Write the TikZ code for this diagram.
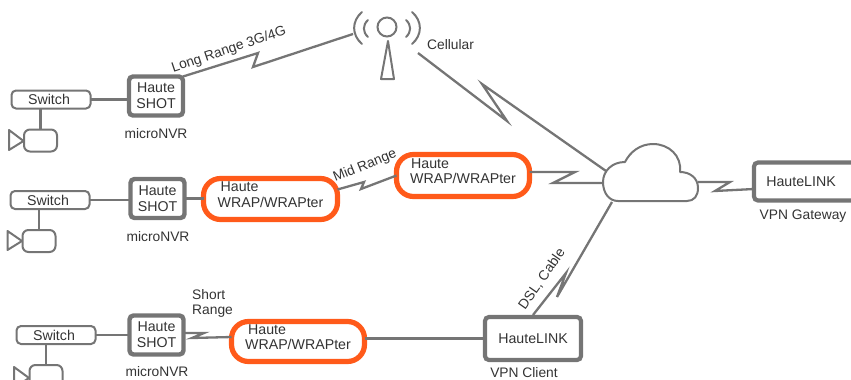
\documentclass[tikz,border=0pt]{standalone}
\usepackage{fontspec}
\setmainfont{Liberation Sans}
\definecolor{lg}{HTML}{757575}
\definecolor{og}{HTML}{FF5A1A}
\definecolor{tx}{HTML}{333333}
\newcommand{\wraptext}[1]{\raisebox{-1pt}[0pt][0pt]{\begin{tabular}[c]{@{}l@{}}\hspace*{#1}Haute\\[-0.6pt]WRAP/WRAPter\end{tabular}}}
\tikzset{
  base/.style={inner sep=0pt,outer sep=0pt,text=tx,font=\fontsize{14.2}{16}\selectfont},
  switchbox/.style={base,draw=lg,line width=2pt,rounded corners=4.5pt,minimum width=79pt,minimum height=18pt},
  shotbox/.style={base,draw=lg,line width=4.4pt,rounded corners=4pt,minimum width=54pt,minimum height=39pt,align=center},
  wrapbox/.style={base,draw=og,line width=5.2pt,rounded corners=17pt,align=left},
  linkbox/.style={base,draw=lg,line width=4.2pt,rounded corners=4pt},
  cambody/.style={base,draw=lg,line width=2pt,rounded corners=6pt,minimum width=33pt,minimum height=22pt},
  caption/.style={inner sep=0pt,text=tx,font=\fontsize{13.8}{16}\selectfont},
  linklabel/.style={inner sep=0pt,text=tx,font=\fontsize{13.8}{15.5}\selectfont},
  wire/.style={draw=lg,line width=2.3pt,line join=miter},
  thin/.style={draw=lg,line width=2pt,line join=round},
}
\begin{document}
\begin{tikzpicture}[x=1pt,y=-1pt]
\clip (0,0) rectangle (851,380);
% row 1
\node[switchbox] (swa) at (51,99.5) {Switch\hspace*{4pt}};
\node[shotbox] (shota) at (156,96) {\raisebox{-1pt}{Haute}\\\raisebox{-1pt}{SHOT}};
\node[caption] (nvra) at (156,134) {microNVR};
\node[cambody] (cama) at (40.5,140.5) {};
\draw[thin] (23.5,141) -- (9,130) -- (9,150) -- cycle;
% row 2
\node[switchbox] (swb) at (50,200) {Switch\hspace*{4pt}};
\node[shotbox] (shotb) at (157.5,198.5) {Haute\\SHOT};
\node[caption] (nvrb) at (158,237) {microNVR};
\node[cambody] (camb) at (39,241) {};
\draw[thin] (22,241) -- (7.5,231) -- (7.5,250) -- cycle;
\node[wrapbox,minimum width=134pt,minimum height=41pt] (wrapa) at (270.5,199) {\wraptext{3pt}};
\node[wrapbox,minimum width=133pt,minimum height=42pt] (wrapb) at (463,175.5) {\wraptext{1pt}};
% row 3
\node[switchbox] (swc) at (56,335) {Switch\hspace*{4pt}};
\node[shotbox] (shotc) at (156.5,335) {Haute\\SHOT};
\node[caption] (nvrc) at (157,371.5) {microNVR};
\node[cambody] (camc) at (46,376) {};
\draw[thin] (29,378) -- (14,367) -- (14,388) -- cycle;
\node[wrapbox,minimum width=133pt,minimum height=40pt] (wrapc) at (298,341.5) {\wraptext{3pt}};
% HauteLINK boxes
\node[linkbox,minimum width=96pt,minimum height=43pt] (client) at (533,338.5) {HauteLINK};
\node[caption] (clientcap) at (524,373) {VPN Client};
\node[linkbox,minimum width=126pt,minimum height=38pt] (gw) at (817,181.5) {HauteLINK\hspace*{32pt}};
\node[caption] (gwcap) at (803,216) {VPN Gateway};
% tower
\node[base,circle,draw=lg,line width=2pt,minimum size=19pt] (tower) at (387,27) {};
\draw[thin,line cap=round] (388,41) -- (381,79) -- (394,79) -- cycle;
\draw[thin,line cap=round] (368,20) .. controls (362.5,25) and (362.5,32) .. (368,37);
\draw[thin,line cap=round] (406,20) .. controls (411.5,25) and (411.5,32) .. (406,37);
\draw[thin,line cap=round] (362,12) .. controls (351.5,21) and (351.5,35) .. (362,44);
\draw[thin,line cap=round] (412,12) .. controls (422.5,21) and (422.5,35) .. (412,44);
\coordinate (towerw) at (353,34);
\coordinate (towere) at (418,53);
% cloud
\draw[thin,fill=white] (618,201) -- (687,201)
  .. controls (694,201) and (698,196) .. (698,188)
  .. controls (698,178) and (690,172) .. (680,172)
  .. controls (682,156) and (669,144) .. (653,144)
  .. controls (640,144) and (630,152) .. (625,162)
  .. controls (612,162) and (603,171) .. (603,182)
  .. controls (603,193) and (609,201) .. (618,201) -- cycle;
\coordinate (cloudnw) at (606,171);
\coordinate (cloudw) at (603,183);
\coordinate (cloudsw) at (612,202);
\coordinate (cloude) at (698,182);
% connectors
\draw[wire] (swa.east) -- (swa.east -| shota.west);
\draw[wire] (swb.east) -- (swb.east -| shotb.west);
\draw[wire] (swc.east) -- (swc.east -| shotc.west);
\draw[wire] (swa.south -| cama.north) -- (cama.north);
\draw[wire] (swb.south -| camb.north) -- (camb.north);
\draw[wire] (swc.south -| camc.north) -- (camc.north);
\draw[wire] (shotb.east) -- (shotb.east -| wrapa.west);
\draw[wire] (wrapc.east |- client.west) -- (client.west);
\draw[wire] (shota.north east) -- (258,53) -- (253,67) -- (towerw);
\draw[wire] (towere) -- (507,121) -- (482,84) -- (cloudnw);
\draw[wire] (wrapa.east) ++(0,-9.5) -- (364,182) -- (361,189) -- (wrapb.west);
\draw[wire] (wrapb.east) ++(0,-3.5) -- (575,172) -- (553,183) -- (cloudw);
\draw[wire] (cloude) -- (730,182) -- (715,191) -- (gw.west |- 0,189);
\draw[wire] (cloudsw) -- (557,297) -- (566,273) -- (533,315);
\draw[wire] (shotc.east) ++(0,-2) -- (204,333) -- (192,338) -- (wrapc.west |- 0,337);
% labels
\node[linklabel,rotate=18.5] (lr) at (229,50) {Long Range 3G/4G};
\node[linklabel,anchor=west] (cell) at (427,45) {Cellular};
\node[linklabel,rotate=22] (mr) at (365,166) {Mid Range};
\node[linklabel,rotate=55] (dsl) at (542,279) {DSL, Cable};
\node[linklabel,align=left,anchor=west] (sr) at (192,303.5) {Short\\Range};
\end{tikzpicture}
\end{document}
